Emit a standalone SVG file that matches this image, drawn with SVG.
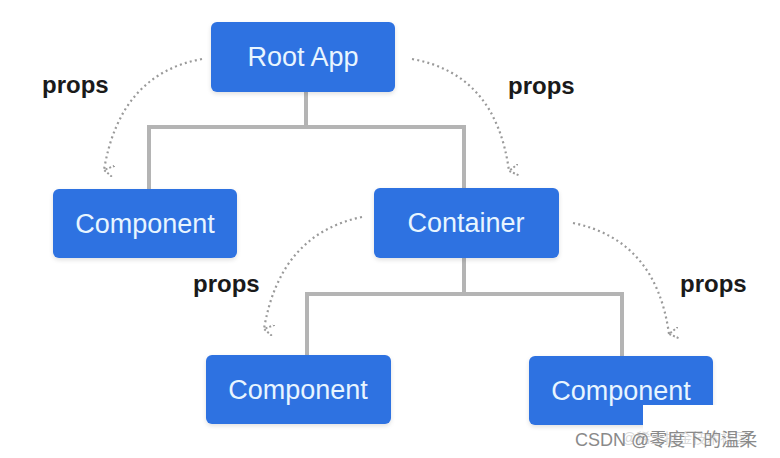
<svg xmlns="http://www.w3.org/2000/svg" width="780" height="458" viewBox="0 0 780 458">
  <defs>
    <style>
      .box { fill: #2f72e1; }
      .lbl { fill: #e8f5ff; font-family: "Liberation Sans", Arial, sans-serif; font-size: 27px; text-anchor: middle; }
      .props { fill: #1a1a1a; font-family: "Liberation Sans", Arial, sans-serif; font-size: 24px; font-weight: bold; }
      .tree { fill: none; stroke: #b4b4b4; stroke-width: 4; }
      .flow { fill: none; stroke: #9a9a9a; stroke-width: 2.2; stroke-dasharray: 2 3.2; }
      .wm { font-family: "Liberation Sans", "Noto Sans CJK SC", sans-serif; }
    </style>
    <filter id="sh" x="-10%" y="-10%" width="120%" height="130%">
      <feDropShadow dx="0" dy="2" stdDeviation="2" flood-color="#000" flood-opacity="0.12"/>
    </filter>
    <marker id="ah" viewBox="0 0 12 12" refX="6" refY="10" markerWidth="12" markerHeight="12" markerUnits="userSpaceOnUse" orient="auto-start-reverse">
      <path d="M0,0 L6,10 L12,0" fill="none" stroke="#9a9a9a" stroke-width="2" stroke-dasharray="2 2"/>
    </marker>
  </defs>
  <rect width="780" height="458" fill="#ffffff"/>

  <g id="connectors">
    <path class="tree" d="M306,91 V127 M149,127 H464 M149,125 V189 M464,125 V188"/>
    <path class="tree" d="M464,258 V294 M307,294 H622 M307,292 V355 M622,292 V356"/>
    <path class="flow" d="M202,59 Q120,74 104,170" marker-end="url(#ah)"/>
    <path class="flow" d="M412,59 Q496,74 509,171" marker-end="url(#ah)"/>
    <path class="flow" d="M362,217 Q280,234 264,329" marker-end="url(#ah)"/>
    <path class="flow" d="M573,223 Q656,240 669,334" marker-end="url(#ah)"/>
  </g>

  <g id="props-labels">
    <text class="props" x="42" y="93">props</text>
    <text class="props" x="508" y="94">props</text>
    <text class="props" x="193" y="292">props</text>
    <text class="props" x="680" y="292">props</text>
  </g>

  <g id="root-app">
    <rect class="box" x="211" y="22" width="184" height="70" rx="6" filter="url(#sh)"/>
    <text class="lbl" x="303" y="66">Root App</text>
  </g>
  <g id="component-left">
    <rect class="box" x="53" y="189" width="184" height="69" rx="6" filter="url(#sh)"/>
    <text class="lbl" x="145" y="233">Component</text>
  </g>
  <g id="container">
    <rect class="box" x="374" y="188" width="185" height="70" rx="6" filter="url(#sh)"/>
    <text class="lbl" x="466" y="232">Container</text>
  </g>
  <g id="component-bottom-left">
    <rect class="box" x="206" y="355" width="185" height="69" rx="6" filter="url(#sh)"/>
    <text class="lbl" x="298" y="399">Component</text>
  </g>
  <g id="component-bottom-right">
    <rect class="box" x="529" y="356" width="184" height="69" rx="6" filter="url(#sh)"/>
    <text class="lbl" x="621" y="400">Component</text>
  </g>

  <g id="watermark">
    <rect x="643" y="405" width="137" height="53" fill="#ffffff"/>
    <text class="wm" x="622" y="443" font-size="14" fill="#bdbdbd" fill-opacity="0.6">@稀土掘金技术社区</text>
    <text class="wm" x="575" y="446" font-size="18" fill="#8a8a8a">CSDN @零度下的温柔</text>
  </g>
</svg>
